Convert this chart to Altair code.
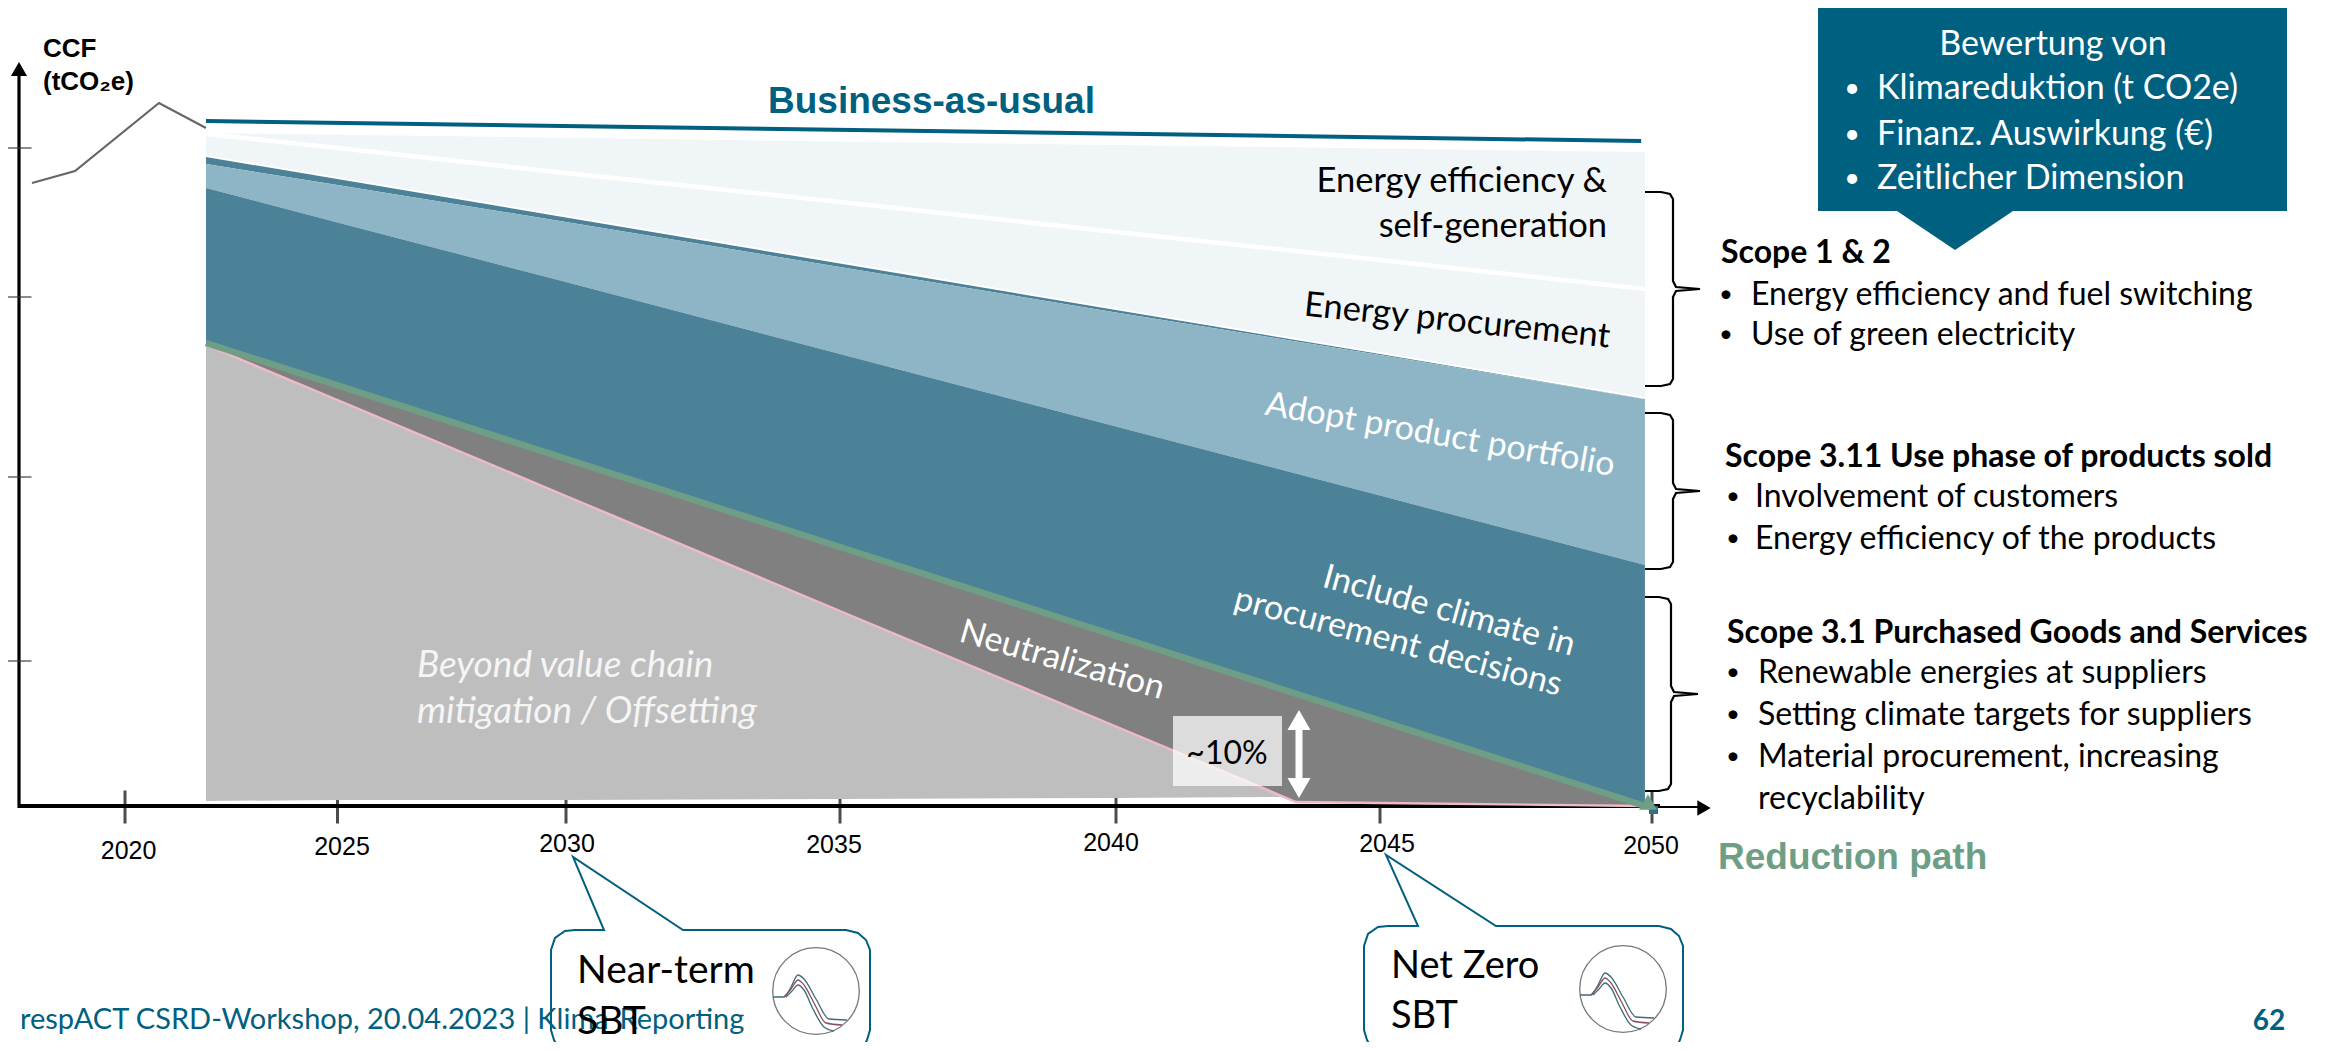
import altair as alt
import pandas as pd

# ---------- chart values (years on x, CCF index on y; 0 = axis baseline) ----------
band_years = [2022, 2025, 2030, 2035, 2040, 2045, 2049.87]
pale_top = [673, 671.3, 668.2, 664.6, 661, 657.5, 654]
divider = [672, 658, 633, 604, 574, 546, 517]
stripe_top = [650, 628, 589.5, 543.5, 497, 453, 408]
light_top = [642, 621, 584, 539, 493.5, 451, 407]
light_bottom = [618, 583.5, 524, 452, 379.6, 310.4, 241]
reduction = [463, 420.7, 347.2, 259, 170.2, 85.3, 0]

pink_years = [2022, 2025, 2030, 2035, 2040, 2043.41, 2045, 2049.87]
pink_vals = [461, 406, 310, 195, 79.5, 4, 3, 0]
neutral_top = [463, 420.7, 347.2, 259, 170.2, 112.3, 85.3, 0]

offset_years = [2022, 2025, 2030, 2035, 2040, 2043.18]
offset_top = [461, 406, 310, 195, 79.5, 9]
offset_bottom = [5, 6, 6, 7, 8, 9]

hist_years = [2018, 2019, 2021, 2022]
hist_vals = [623, 635, 703, 678]
bau_years = [2022, 2049.8]
bau_vals = [685, 665]

tick_years = [2020, 2025, 2030, 2035, 2040, 2045, 2050]
tick_labels = ["2020", "2025", "2030", "2035", "2040", "2045", "2050"]
y_ticks = [658, 509, 329, 145]

scale_years = [2018, 2019, 2020, 2021, 2022, 2025, 2030, 2035, 2040, 2045, 2050]
scale_px = [24, 67, 117, 151, 198, 329.5, 558, 832, 1108, 1372, 1644]

W, H = 2322, 1034
TEAL = "#00607F"
PALE = "#F0F5F7"
LIGHT = "#8EB5C6"
DARK = "#4C8297"
GREEN = "#6E9F86"
GRAY_D = "#808080"
GRAY_L = "#BEBEBE"
PINK = "#F0B9C9"
CAL = "Lato"
ARIAL = "Liberation Sans"

xs = alt.Scale(domain=scale_years, range=scale_px)
ys = alt.Scale(domain=[-236, 798], range=[H, 0])
X = lambda f: alt.X(f, type="quantitative", scale=xs, axis=None)
Y = lambda f: alt.Y(f, type="quantitative", scale=ys, axis=None)


def band(years, top, bottom, color):
    df = pd.DataFrame({"year": years, "top": top, "bottom": bottom})
    return alt.Chart(df).mark_area(color=color, opacity=1, interpolate="linear").encode(
        x=X("year"), y=Y("top"), y2=alt.Y2("bottom"))


def series(years, vals, color, width):
    df = pd.DataFrame({"year": years, "v": vals})
    return alt.Chart(df).mark_line(color=color, strokeWidth=width).encode(x=X("year"), y=Y("v"))


data_layers = [
    alt.Chart(pd.DataFrame({"year": tick_years})).mark_tick(size=33, thickness=3, color="#000").encode(
        x=X("year"), y=alt.value(799)),
    alt.Chart(pd.DataFrame({"v": y_ticks})).mark_tick(size=25, thickness=1.6, color="#333").encode(
        y=Y("v"), x=alt.value(11)),
    series(hist_years, hist_vals, "#666666", 2.2),
    band(band_years, pale_top, stripe_top, PALE),
    band(band_years, stripe_top, light_top, DARK),
    band(band_years, light_top, light_bottom, LIGHT),
    band(band_years, light_bottom, reduction, DARK),
    band(pink_years, neutral_top, pink_vals, GRAY_D),
    band(offset_years, offset_top, offset_bottom, GRAY_L),
    series(pink_years, pink_vals, PINK, 2.4),
    series(band_years, reduction, GREEN, 6.5),
    series(band_years, stripe_top, "#FFFFFF", 2),
    series(band_years, divider, "#FFFFFF", 4.5),
    series(bau_years, bau_vals, TEAL, 4),
]

# ---------- slide furniture, in slide pixels ----------
px = alt.Scale(domain=[8, 8 + W], range=[0, W])
py = alt.Scale(domain=[8 + H, 8], range=[H, 0])
one = alt.Data(values=[{"a": 0}])


def poly(points, color, width, interp="linear"):
    df = pd.DataFrame(points, columns=["x", "y"]).assign(i=range(len(points)))
    return alt.Chart(df).mark_line(color=color, strokeWidth=width, interpolate=interp).encode(
        x=alt.X("x:Q", scale=px, axis=None), y=alt.Y("y:Q", scale=py, axis=None), order="i:Q")


def filled(points, color):
    df = pd.DataFrame(points, columns=["x", "y", "y2"])
    return alt.Chart(df).mark_area(color=color, opacity=1).encode(
        x=alt.X("x:Q", scale=px, axis=None), y=alt.Y("y:Q", scale=py, axis=None), y2="y2:Q")


def rect(x0, y0, x1, y1, color, opacity=1.0):
    return alt.Chart(one).mark_rect(x=x0 - 8, y=y0 - 8, x2=x1 - 8, y2=y1 - 8, color=color, opacity=opacity)


def sym(x, y, shape, size, color, fill=True, sw=1.5):
    return alt.Chart(one).mark_point(
        x=x - 8, y=y - 8, shape=shape, size=size, filled=fill, opacity=1,
        color=color, strokeWidth=sw)


def txt(x, y, s, size=28, color="#000", font=CAL, weight="normal", style="normal", align="left", angle=0):
    dy = 1.5 if font == CAL else 0
    return alt.Chart(one).mark_text(
        x=x - 8, y=y - 8 + dy, text=s, fontSize=size, color=color, font=font, fontWeight=weight,
        fontStyle=style, align=align, baseline="middle", angle=angle)


def brace(x0, xv, xt, y0, ym, y1):
    return poly([(x0, y0), (xv - 12, y0), (xv - 3, y0 + 2), (xv, y0 + 7), (xv, ym - 8), (xv + 3, ym - 2), (xt, ym),
                 (xv + 3, ym + 2), (xv, ym + 8), (xv, y1 - 7), (xv - 3, y1 - 2), (xv - 12, y1), (x0, y1)], "#000", 2.2)


def callout(l, r, top, tip, bl, br):
    return poly([(l + 9, 1050), (l + 3, 1040), (l, 1030), (l, top + 20), (l + 4, top + 8), (l + 14, top + 1), (l + 24, top),
                 (bl, top), tip, (br, top), (r - 24, top), (r - 12, top + 3), (r - 4, top + 10), (r, top + 20),
                 (r, 1030), (r - 3, 1040), (r - 8, 1050)], TEAL, 2)


logo_lines = [
    ([(-43, 6), (-32, 6), (-25, -4), (-18, -16), (-12, -12), (0, 8), (13, 28), (31, 29)], "#3F6B7A"),
    ([(-32, 6), (-25, -2), (-18, -11), (-12, -6), (-2, 12), (10, 32), (26, 34)], "#8A5060"),
    ([(-30, 6), (-24, 0), (-18, -6), (-12, -1), (-3, 18), (8, 36), (18, 40)], "#3F6B7A"),
]


def logo(cx, cy):
    out = [sym(cx, cy, "circle", 7500, "#777777", fill=False, sw=1.3)]
    for pts, c in logo_lines:
        out.append(poly([(cx + a, cy + b) for a, b in pts], c, 1.3, "monotone"))
    return out


def bullet(x, y, color="#000", size=24):
    return txt(x, y, "•", size=size, color=color, align="center")


under = [
    poly([(19, 806), (1660, 806)], "#000", 4),
    poly([(1650, 807), (1700, 807)], "#000", 2),
    sym(1704, 808, "triangle-right", 240, "#000"),
    poly([(19, 72), (19, 808)], "#000", 3.2),
    sym(19, 69, "triangle-up", 260, "#000"),
]

top_layers = [
    rect(1649, 806, 1658, 814, "#2F6F88"),
    sym(1648, 802, "triangle-up", 330, GREEN),

    # bottom overlays
    rect(1173, 716, 1282, 786, "#FFFFFF", 0.72),
    txt(1227, 752, "~10%", size=32, align="center"),
    poly([(1299, 725), (1299, 785)], "#FFFFFF", 7),
    sym(1299, 720, "triangle-up", 530, "#FFFFFF"),
    sym(1299, 788, "triangle-down", 530, "#FFFFFF"),

    # band labels
    txt(1607, 180, "Energy efficiency &", size=34.5, align="right"),
    txt(1607, 225, "self-generation", size=34.5, align="right"),
    txt(1457, 320, "Energy procurement", size=34.5, align="center", angle=6),
    txt(1440, 434, "Adopt product portfolio", size=34, color="#FFFFFF", align="center", angle=10),
    txt(1449, 610, "Include climate in", size=34, color="#FFFFFF", align="center", angle=15.5),
    txt(1398, 641, "procurement decisions", size=34, color="#FFFFFF", align="center", angle=15),
    txt(1062, 659, "Neutralization", size=34, color="#FFFFFF", align="center", angle=16),
    txt(417, 664, "Beyond value chain", size=37, color="#F5F5F5", style="italic"),
    txt(417, 710, "mitigation / Offsetting", size=37, color="#F5F5F5", style="italic"),

    # axis text
    txt(43, 49, "CCF", size=26, font=ARIAL, weight="bold"),
    txt(43, 82, "(tCO₂e)", size=26, font=ARIAL, weight="bold"),
    txt(768, 102, "Business-as-usual", size=37, color=TEAL, font=ARIAL, weight="bold"),
    txt(1718, 858, "Reduction path", size=37, color=GREEN, font=ARIAL, weight="bold"),
]

tick_label_pos = [(128.6, 851), (342, 847), (567, 844), (834, 845), (1111, 843), (1387, 844), (1651, 846)]
for (lx, ly), lab in zip(tick_label_pos, tick_labels):
    top_layers.append(txt(lx, ly, lab, size=25, font=ARIAL, align="center"))

top_layers += [
    brace(1645, 1673, 1700, 192, 289, 386),
    brace(1645, 1673, 1700, 413, 491, 569),
    brace(1645, 1671, 1698, 597, 694, 791),

    # top-right box
    rect(1818, 7, 2287, 211, TEAL),
    filled([(1897, 211, 211), (1955, 250, 211), (2013, 211, 211)], TEAL),
    txt(2053, 43, "Bewertung von", size=34, color="#FFFFFF", align="center"),
    bullet(1852, 87, "#FFFFFF", 27),
    txt(1877, 87, "Klimareduktion (t CO2e)", size=34, color="#FFFFFF"),
    bullet(1852, 133, "#FFFFFF", 27),
    txt(1877, 133, "Finanz. Auswirkung (€)", size=34, color="#FFFFFF"),
    bullet(1852, 177, "#FFFFFF", 27),
    txt(1877, 177, "Zeitlicher Dimension", size=34, color="#FFFFFF"),

    # scope text
    txt(1721, 251, "Scope 1 & 2", size=32, weight="bold"),
    bullet(1726, 293),
    txt(1751, 293, "Energy efficiency and fuel switching", size=32),
    bullet(1726, 333),
    txt(1751, 333, "Use of green electricity", size=32),

    txt(1725, 455, "Scope 3.11 Use phase of products sold", size=32, weight="bold"),
    bullet(1733, 495),
    txt(1755, 495, "Involvement of customers", size=32),
    bullet(1733, 537),
    txt(1755, 537, "Energy efficiency of the products", size=32),

    txt(1727, 631, "Scope 3.1 Purchased Goods and Services", size=32, weight="bold"),
    bullet(1733, 671),
    txt(1758, 671, "Renewable energies at suppliers", size=32),
    bullet(1733, 713),
    txt(1758, 713, "Setting climate targets for suppliers", size=32),
    bullet(1733, 755),
    txt(1758, 755, "Material procurement, increasing", size=32),
    txt(1758, 797, "recyclability", size=32),

    # footer
    txt(20, 1018, "respACT CSRD-Workshop, 20.04.2023 | Klima-Reporting", size=29, color=TEAL),
    txt(2269, 1020, "62", size=28, color=TEAL, weight="bold", align="center"),

    # call-outs
    callout(551, 870, 930, (573, 857), 604, 683),
    callout(1364, 1683, 926, (1386, 855), 1418, 1496),
    txt(577, 969, "Near-term", size=39),
    txt(577, 1020, "SBT", size=39),
    txt(1391, 965, "Net Zero", size=38),
    txt(1391, 1015, "SBT", size=38),
] + logo(816, 991) + logo(1623, 989)

chart = (
    alt.layer(alt.layer(*under), alt.layer(*data_layers), alt.layer(*top_layers))
    .resolve_scale(x="independent", y="independent")
    .properties(width=W, height=H, padding=0, background="#FFFFFF",
                autosize=alt.AutoSizeParams(type="none"))
    .configure_view(stroke=None)
)
chart.save("out.html", embed_options={"renderer": "svg", "actions": False})
